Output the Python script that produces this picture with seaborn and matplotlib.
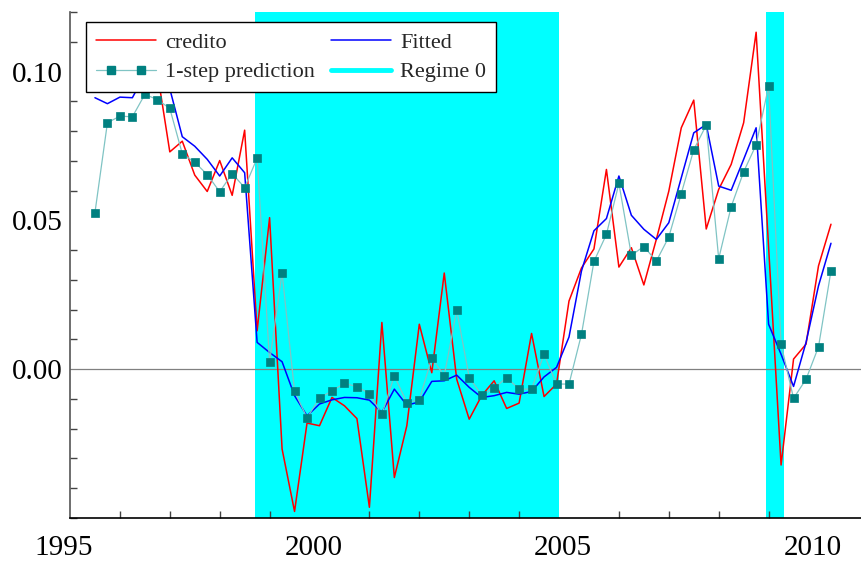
import numpy as np
import pandas as pd
import matplotlib
matplotlib.use("Agg")
import matplotlib.pyplot as plt
import matplotlib.transforms as mtransforms
from matplotlib.lines import Line2D
from matplotlib.legend_handler import HandlerLine2D, HandlerTuple
from matplotlib.ticker import MultipleLocator
import seaborn as sns

# ---------------- data ----------------
first_period = 1995.5     # 1995 Q3
period_step = 0.25        # quarterly

credito = [0.0979, 0.0936, 0.0959, 0.1072, 0.1010, 0.0998, 0.0730, 0.0766, 0.0652, 0.0597,
           0.0701, 0.0584, 0.0803, 0.0129, 0.0509, -0.0268, -0.0478, -0.0181, -0.0190, -0.0095,
           -0.0123, -0.0166, -0.0464, 0.0157, -0.0364, -0.0190, 0.0151, -0.0012, 0.0323, -0.0034,
           -0.0168, -0.0089, -0.0039, -0.0132, -0.0114, 0.0120, -0.0092, -0.0050, 0.0229, 0.0340,
           0.0404, 0.0671, 0.0343, 0.0408, 0.0283, 0.0436, 0.0598, 0.0811, 0.0904, 0.0471,
           0.0604, 0.0688, 0.0828, 0.1132, 0.0410, -0.0322, 0.0034, 0.0084, 0.0347, 0.0487]

fitted = [0.0912, 0.0892, 0.0914, 0.0912, 0.0990, 0.0970, 0.0942, 0.0781, 0.0749, 0.0705,
          0.0649, 0.0710, 0.0660, 0.0090, 0.0056, 0.0025, -0.0089, -0.0157, -0.0117, -0.0103,
          -0.0095, -0.0096, -0.0104, -0.0145, -0.0067, -0.0121, -0.0110, -0.0041, -0.0039, -0.0020,
          -0.0061, -0.0095, -0.0089, -0.0078, -0.0084, -0.0075, -0.0026, 0.0006, 0.0108, 0.0330,
          0.0465, 0.0506, 0.0649, 0.0517, 0.0470, 0.0436, 0.0492, 0.0643, 0.0794, 0.0822,
          0.0615, 0.0601, 0.0705, 0.0811, 0.0151, 0.0050, -0.0058, 0.0090, 0.0280, 0.0423]

prediction = [0.0526, 0.0828, 0.0850, 0.0848, 0.0923, 0.0906, 0.0876, 0.0724, 0.0695, 0.0654,
              0.0596, 0.0657, 0.0610, 0.0709, 0.0025, 0.0324, -0.0074, -0.0164, -0.0097, -0.0073,
              -0.0047, -0.0059, -0.0082, -0.0152, -0.0022, -0.0112, -0.0103, 0.0037, -0.0022, 0.0199,
              -0.0028, -0.0086, -0.0064, -0.0028, -0.0067, -0.0067, 0.0050, -0.0050, -0.0050, 0.0117,
              0.0362, 0.0453, 0.0624, 0.0383, 0.0412, 0.0363, 0.0444, 0.0590, 0.0737, 0.0820,
              0.0371, 0.0546, 0.0663, 0.0754, 0.0951, 0.0084, -0.0098, -0.0034, 0.0075, 0.0330]

regime_start = [1998.75, 2009.00]
regime_end = [2004.75, 2009.25]

x_ticks = [1995, 2000, 2005, 2010]
x_tick_labels = ["1995", "2000", "2005", "2010"]
y_ticks = [0.00, 0.05, 0.10]
y_tick_labels = ["0.00", "0.05", "0.10"]

labels = ["credito", "1-step prediction", "Fitted", "Regime 0"]

# ---------------- frame ----------------
time = first_period + period_step * np.arange(len(credito))
df = pd.DataFrame({"time": time, "credito": credito, "fitted": fitted,
                   "prediction": prediction})

sns.set_theme(style="white")
plt.rcParams["font.family"] = ["Liberation Serif", "DejaVu Serif"]

W, H = 861, 564
fig = plt.figure(figsize=(W / 100, H / 100), dpi=100)
ax = fig.add_axes([70 / W, 46 / H, 791 / W, 506 / H])

RED = "#ff0000"
BLUE = "#0000ff"
CYAN = "#00ffff"
TEAL = "#008080"
TEAL_LINE = "#80c4c4"

# regime shading
for s, e in zip(regime_start, regime_end):
    ax.axvspan(s - 0.045, e + 0.05, color=CYAN, lw=0, zorder=0)

ax.axhline(0, color="#808080", lw=0.9, zorder=1)

sns.lineplot(data=df, x="time", y="credito", ax=ax, color=RED, lw=1.1,
             legend=False, zorder=3)
sns.lineplot(data=df, x="time", y="fitted", ax=ax, color=BLUE, lw=1.1,
             legend=False, zorder=4)
sns.lineplot(data=df, x="time", y="prediction", ax=ax, color=TEAL_LINE, lw=0.9,
             marker="s", markersize=5.5, markerfacecolor=TEAL,
             markeredgecolor=TEAL, markeredgewidth=0.5, legend=False, zorder=5)

ax.set_xlim(1995, 1995 + 791 / 49.9)
ax.set_ylim(-0.05, 0.12)
ax.set_xlabel("")
ax.set_ylabel("")

ax.set_xticks(x_ticks)
ax.set_xticklabels(x_tick_labels)
ax.xaxis.set_minor_locator(MultipleLocator(1))
ax.set_yticks(y_ticks)
ax.set_yticklabels(y_tick_labels)
ax.yaxis.set_minor_locator(MultipleLocator(0.01))

ax.tick_params(axis="both", which="major", direction="in", labelsize=21,
               colors="#444444", labelcolor="black", width=1.0)
ax.tick_params(axis="x", which="major", length=10, pad=12)
ax.tick_params(axis="y", which="major", length=10, pad=5)
ax.tick_params(axis="both", which="minor", direction="in", length=5,
               colors="#444444", width=1.0)
ax.tick_params(axis="x", which="minor", bottom=True)
ax.tick_params(axis="y", which="minor", left=True)

for side in ["top", "right"]:
    ax.spines[side].set_visible(False)
ax.spines["left"].set_color("#555555")
ax.spines["left"].set_linewidth(1.2)
ax.spines["bottom"].set_color("black")
ax.spines["bottom"].set_linewidth(1.2)

# shift x labels slightly left, as in the reference
offset = mtransforms.ScaledTranslation(-6 / 100, 0, fig.dpi_scale_trans)
for lab in ax.get_xticklabels():
    lab.set_transform(lab.get_transform() + offset)

ax.set_facecolor("white")
ax.grid(False)

pred_line = Line2D([], [], color=TEAL_LINE, lw=0.9)
pred_mark = Line2D([], [], ls="none", marker="s", markersize=5.5,
                   markerfacecolor=TEAL, markeredgecolor=TEAL)
handles = [
    Line2D([], [], color=RED, lw=1.1),
    (pred_line, pred_mark),
    Line2D([], [], color=BLUE, lw=1.1),
    Line2D([], [], color=CYAN, lw=3.5),
]
leg = ax.legend(handles, labels, ncol=2, loc="upper left",
                bbox_to_anchor=(86 / W, 1 - 22 / H), bbox_transform=fig.transFigure,
                fontsize=16, frameon=True, fancybox=False, framealpha=1,
                edgecolor="black", handlelength=2.7, handletextpad=0.4,
                columnspacing=0.75, labelspacing=0.42, borderpad=0.45,
                borderaxespad=0, numpoints=1,
                handler_map={tuple: HandlerTuple(ndivide=1, pad=0),
                             pred_mark: HandlerLine2D(numpoints=2, marker_pad=0.68)})
leg.get_frame().set_linewidth(1.0)
leg.set_zorder(10)

fig.savefig("out.png", dpi=100)
